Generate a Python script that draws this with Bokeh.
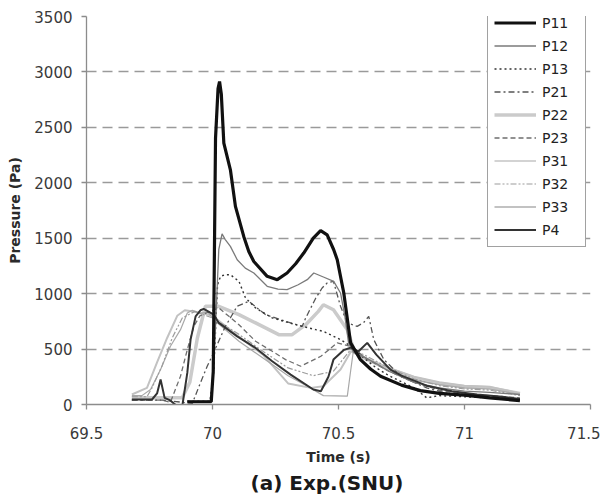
from bokeh.plotting import figure
from bokeh.models import Range1d, FixedTicker, Legend, LegendItem, Title
from bokeh.embed import file_html
from bokeh.resources import INLINE

# ---------------- data ----------------
series_names = ["P11", "P12", "P13", "P21", "P22", "P23", "P31", "P32", "P33", "P4"]

t_p11 = [69.90, 69.995, 70.003, 70.012, 70.022, 70.028, 70.035, 70.045, 70.071, 70.091, 70.124, 70.144,
         70.164, 70.217, 70.257, 70.296, 70.33, 70.362, 70.40, 70.429, 70.455, 70.481, 70.495, 70.521,
         70.548, 70.587, 70.627, 70.667, 70.75, 70.825, 70.9, 71.0, 71.1, 71.22]
p_p11 = [25, 25, 300, 2400, 2850, 2913, 2800, 2357, 2117, 1787, 1516, 1380,
         1290, 1156, 1126, 1186, 1270, 1366, 1500, 1568, 1530, 1396, 1306, 1006,
         556, 405, 320, 255, 175, 125, 100, 85, 60, 35]

t_p12 = [69.90, 69.995, 70.01, 70.025, 70.038, 70.05, 70.071, 70.098, 70.13, 70.164, 70.217, 70.26,
         70.296, 70.34, 70.376, 70.402, 70.44, 70.481, 70.508, 70.525, 70.54, 70.56, 70.6, 70.65,
         70.7, 70.8, 70.9, 71.0, 71.1, 71.22]
p_p12 = [30, 30, 600, 1400, 1540, 1490, 1426, 1306, 1230, 1186, 1066, 1040,
         1036, 1080, 1126, 1186, 1150, 1111, 1006, 800, 556, 470, 430, 370,
         300, 200, 150, 120, 110, 90]

t_p13 = [69.90, 69.99, 70.005, 70.02, 70.032, 70.05, 70.071, 70.105, 70.131, 70.171, 70.237, 70.33,
         70.41, 70.44, 70.508, 70.554, 70.6, 70.65, 70.7, 70.8, 70.85, 70.9, 71.0, 71.1, 71.22]
p_p13 = [30, 30, 300, 1080, 1156, 1171, 1171, 1111, 961, 871, 781, 720,
         675, 660, 585, 520, 420, 330, 260, 150, 60, 80, 70, 60, 40]

t_p21 = [69.68, 69.80, 69.92, 69.952, 69.979, 69.998, 70.05, 70.098, 70.144, 70.21, 70.29, 70.356,
         70.37, 70.41, 70.435, 70.455, 70.48, 70.508, 70.535, 70.574, 70.60, 70.62, 70.64, 70.68,
         70.75, 70.85, 70.95, 71.05, 71.15, 71.22]
p_p21 = [40, 40, 10, 195, 345, 435, 700, 886, 931, 811, 750, 705,
         781, 961, 1051, 1096, 1111, 886, 736, 705, 740, 795, 585, 405,
         250, 150, 90, 70, 60, 50]

t_p22 = [69.68, 69.88, 69.91, 69.94, 69.972, 70.025, 70.105, 70.171, 70.263, 70.316, 70.37, 70.42,
         70.44, 70.48, 70.535, 70.56, 70.6, 70.7, 70.8, 70.9, 71.0, 71.1, 71.22]
p_p22 = [60, 60, 200, 600, 886, 886, 811, 736, 630, 630, 720, 840,
         900, 855, 675, 500, 420, 320, 240, 190, 160, 150, 100]

t_p23 = [69.68, 69.80, 69.833, 69.873, 69.90, 69.926, 69.95, 69.98, 70.025, 70.105, 70.171, 70.237,
         70.29, 70.35, 70.43, 70.495, 70.554, 70.6, 70.7, 70.8, 70.9, 71.0, 71.1, 71.22]
p_p23 = [40, 40, 20, 255, 495, 705, 800, 830, 871, 720, 570, 480,
         405, 345, 435, 556, 520, 430, 300, 200, 130, 90, 80, 60]

t_p31 = [69.68, 69.72, 69.754, 69.794, 69.833, 69.873, 69.90, 69.92, 69.95, 69.98, 70.012, 70.105,
         70.237, 70.30, 70.38, 70.44, 70.535, 70.548, 70.56, 70.58, 70.62, 70.7, 70.8, 70.9,
         71.0, 71.1, 71.22]
p_p31 = [80, 80, 135, 315, 525, 675, 826, 850, 820, 835, 750, 570,
         360, 260, 160, 80, 75, 300, 500, 470, 400, 300, 220, 180,
         150, 140, 90]

t_p32 = [69.68, 69.74, 69.76, 69.80, 69.84, 69.88, 69.93, 70.0, 70.1, 70.2, 70.3, 70.4,
         70.48, 70.55, 70.6, 70.7, 70.8, 70.9, 71.0, 71.1, 71.22]
p_p32 = [70, 70, 150, 350, 600, 780, 840, 780, 640, 480, 330, 260,
         300, 500, 450, 330, 230, 170, 140, 130, 80]

t_p33 = [69.68, 69.74, 69.78, 69.82, 69.86, 69.89, 69.95, 70.0, 70.1, 70.2, 70.3, 70.39,
         70.44, 70.508, 70.55, 70.6, 70.7, 70.8, 70.9, 71.0, 71.1, 71.22]
p_p33 = [90, 150, 380, 600, 800, 850, 830, 800, 620, 450, 190, 150,
         165, 315, 480, 420, 330, 250, 200, 170, 160, 100]

t_p4 = [69.68, 69.76, 69.78, 69.794, 69.81, 69.83, 69.86, 69.88, 69.90, 69.913, 69.933, 69.952,
        69.965, 69.979, 70.005, 70.025, 70.098, 70.171, 70.237, 70.31, 70.40, 70.43, 70.46, 70.48,
        70.52, 70.548, 70.58, 70.614, 70.65, 70.706, 70.75, 70.85, 70.95, 71.05, 71.15, 71.22]
p_p4 = [45, 45, 100, 225, 60, 40, -15, -15, 285, 585, 795, 850,
        862, 845, 810, 736, 615, 510, 390, 270, 135, 120, 250, 405,
        490, 513, 480, 556, 450, 315, 260, 170, 120, 90, 70, 50]

x_ticks = [69.5, 70, 70.5, 71, 71.5]
x_tick_labels = ["69.5", "70", "70.5", "71", "71.5"]
y_ticks = [0, 500, 1000, 1500, 2000, 2500, 3000, 3500]

# ---------------- figure ----------------
p = figure(frame_width=504, frame_height=388, output_backend="svg", toolbar_location=None,
           x_range=Range1d(69.5, 71.5), y_range=Range1d(0, 3500),
           min_border_left=86, min_border_right=10, min_border_top=16, min_border_bottom=60,
           background_fill_color="white", border_fill_color="white")
p.outline_line_color = None

FONT = "DejaVu Sans"
p.xaxis.ticker = FixedTicker(ticks=x_ticks)
p.xaxis.major_label_overrides = {v: s for v, s in zip(x_ticks, x_tick_labels)}
p.yaxis.ticker = FixedTicker(ticks=y_ticks)
for ax in (p.xaxis[0], p.yaxis[0]):
    ax.axis_line_color = "#8c8c8c"
    ax.axis_line_width = 1.3
    ax.major_tick_line_color = "#8c8c8c"
    ax.major_tick_line_width = 1.3
    ax.major_tick_out = 5
    ax.major_tick_in = 0
    ax.minor_tick_line_color = None
    ax.major_label_text_font = FONT
    ax.major_label_text_font_size = "15px"
    ax.major_label_text_color = "#3a3a3a"
    ax.axis_label_text_font = FONT
    ax.axis_label_text_font_size = "14px"
    ax.axis_label_text_font_style = "bold"
    ax.axis_label_text_color = "#2a2a2a"
p.xaxis.axis_label = "Time (s)"
p.yaxis.axis_label = "Pressure (Pa)"
p.xaxis.major_label_standoff = 17
p.xaxis.axis_label_standoff = 7
p.yaxis.major_label_standoff = 9
p.yaxis.axis_label_standoff = 8

p.xgrid.grid_line_color = None
p.ygrid.grid_line_color = "#9a9a9a"
p.ygrid.grid_line_width = 1.5
p.ygrid.grid_line_dash = "10 6"

styles = {
    "P11": dict(color="#111111", width=3.2, dash="solid"),
    "P12": dict(color="#7a7a7a", width=1.3, dash="solid"),
    "P13": dict(color="#333333", width=1.4, dash="2 3"),
    "P21": dict(color="#555555", width=1.3, dash="6 3 2 3"),
    "P22": dict(color="#cbcbcb", width=3.5, dash="solid"),
    "P23": dict(color="#6e6e6e", width=1.3, dash="5 3"),
    "P31": dict(color="#a8a8a8", width=1.2, dash="solid"),
    "P32": dict(color="#9c9c9c", width=1.2, dash="6 2 2 2 2 2"),
    "P33": dict(color="#c2c2c2", width=2.0, dash="solid"),
    "P4":  dict(color="#333333", width=2.0, dash="solid"),
}
data = {
    "P11": (t_p11, p_p11), "P12": (t_p12, p_p12), "P13": (t_p13, p_p13),
    "P21": (t_p21, p_p21), "P22": (t_p22, p_p22), "P23": (t_p23, p_p23),
    "P31": (t_p31, p_p31), "P32": (t_p32, p_p32), "P33": (t_p33, p_p33),
    "P4": (t_p4, p_p4),
}

draw_order = ["P22", "P33", "P31", "P32", "P23", "P21", "P13", "P12", "P4", "P11"]
renderers = {}
for name in draw_order:
    st = styles[name]
    tx, py = data[name]
    renderers[name] = p.line(tx, py, line_color=st["color"], line_width=st["width"],
                             line_dash=st["dash"])

# location = (left, bottom) of the legend box, in pixels from the frame's bottom-left
legend = Legend(items=[LegendItem(label=n, renderers=[renderers[n]]) for n in series_names],
                location=(401, 157))
legend.border_line_color = "#444444"
legend.border_line_width = 1.3
legend.background_fill_color = "white"
legend.background_fill_alpha = 1.0
legend.padding = 6
legend.spacing = 2
legend.glyph_width = 42
legend.glyph_height = 21
legend.label_height = 21
legend.label_width = 37
legend.label_standoff = 6
legend.margin = 0
legend.label_text_font = FONT
legend.label_text_font_size = "14px"
legend.label_text_color = "#222222"
p.add_layout(legend, "center")

caption = Title(text="(a) Exp.(SNU)", align="left", offset=164, standoff=2,
                text_font=FONT, text_font_size="20px", text_font_style="bold",
                text_color="#1a1a1a")
p.add_layout(caption, "below")

open("out.html", "w").write(file_html(p, INLINE))
